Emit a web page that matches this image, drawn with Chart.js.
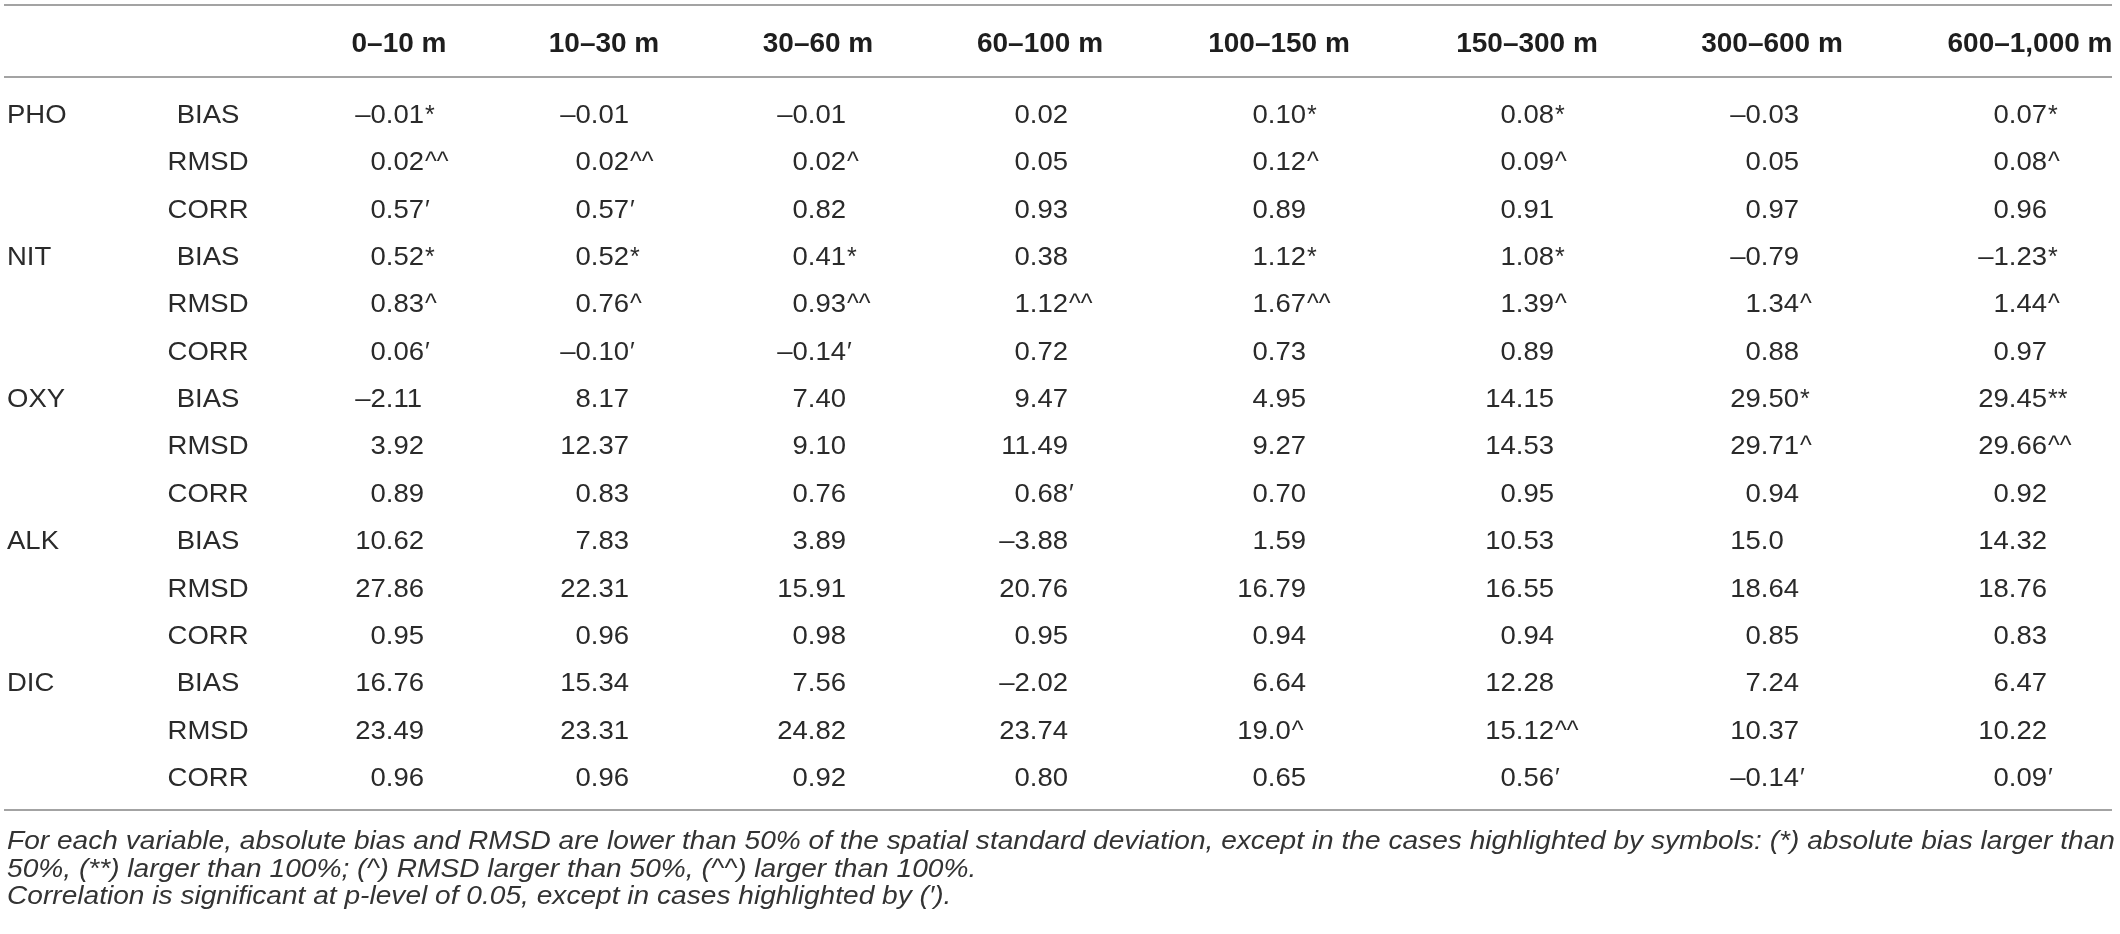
<!DOCTYPE html>
<html>
<head>
<meta charset="utf-8">
<script src="https://cdn.jsdelivr.net/npm/chart.js@4.4.1/dist/chart.umd.min.js"></script>
<style>
    html, body { margin: 0; padding: 0; background: #ffffff; }
    #wrap { width: 2120px; height: 934px; position: relative; }
</style>
</head>
<body>
<div id="wrap"><canvas id="statsTable"></canvas></div>
<script>
// Table data (cell text as printed; markers: * ** ^ ^^ ')
const depthBins = ['0–10 m', '10–30 m', '30–60 m', '60–100 m', '100–150 m', '150–300 m', '300–600 m', '600–1,000 m'];
const variables = ['PHO', 'NIT', 'OXY', 'ALK', 'DIC'];
const statistics = ['BIAS', 'RMSD', 'CORR'];

const phoBias = ['-0.01*', '-0.01', '-0.01', '0.02', '0.10*', '0.08*', '-0.03', '0.07*'];
const phoRmsd = ['0.02^^', '0.02^^', '0.02^', '0.05', '0.12^', '0.09^', '0.05', '0.08^'];
const phoCorr = ["0.57'", "0.57'", '0.82', '0.93', '0.89', '0.91', '0.97', '0.96'];
const nitBias = ['0.52*', '0.52*', '0.41*', '0.38', '1.12*', '1.08*', '-0.79', '-1.23*'];
const nitRmsd = ['0.83^', '0.76^', '0.93^^', '1.12^^', '1.67^^', '1.39^', '1.34^', '1.44^'];
const nitCorr = ["0.06'", "-0.10'", "-0.14'", '0.72', '0.73', '0.89', '0.88', '0.97'];
const oxyBias = ['-2.11', '8.17', '7.40', '9.47', '4.95', '14.15', '29.50*', '29.45**'];
const oxyRmsd = ['3.92', '12.37', '9.10', '11.49', '9.27', '14.53', '29.71^', '29.66^^'];
const oxyCorr = ['0.89', '0.83', '0.76', "0.68'", '0.70', '0.95', '0.94', '0.92'];
const alkBias = ['10.62', '7.83', '3.89', '-3.88', '1.59', '10.53', '15.0', '14.32'];
const alkRmsd = ['27.86', '22.31', '15.91', '20.76', '16.79', '16.55', '18.64', '18.76'];
const alkCorr = ['0.95', '0.96', '0.98', '0.95', '0.94', '0.94', '0.85', '0.83'];
const dicBias = ['16.76', '15.34', '7.56', '-2.02', '6.64', '12.28', '7.24', '6.47'];
const dicRmsd = ['23.49', '23.31', '24.82', '23.74', '19.0^', '15.12^^', '10.37', '10.22'];
const dicCorr = ['0.96', '0.96', '0.92', '0.80', '0.65', "0.56'", "-0.14'", "0.09'"];

const footnotes = [
    'For each variable, absolute bias and RMSD are lower than 50% of the spatial standard deviation, except in the cases highlighted by symbols: (*) absolute bias larger than',
    '50%, (**) larger than 100%; (^) RMSD larger than 50%, (^^) larger than 100%.',
    'Correlation is significant at p-level of 0.05, except in cases highlighted by (′).'
];

const tableRows = [phoBias, phoRmsd, phoCorr, nitBias, nitRmsd, nitCorr, oxyBias, oxyRmsd, oxyCorr,
    alkBias, alkRmsd, alkCorr, dicBias, dicRmsd, dicCorr];
const rowKeys = tableRows.map((r, i) => variables[Math.floor(i / 3)] + ' ' + statistics[i % 3]);

// Layout (x in scale units = page px)
const layout = {
    varX: 7,
    statX: 208,
    numRight: [424, 629, 846, 1068, 1306, 1554, 1799, 2047],
    headCenter: [399, 604, 818, 1040, 1279, 1527, 1772, 2030],
    ruleLeft: 4,
    ruleRight: 2112,
    footWidth: 2108
};

const FONT = '"Liberation Sans", Arial, sans-serif';
const BODY_SIZE = 25;
const BODY_STRETCH = 1.1;
const TEXT_COLOR = '#2a2a2a';

function drawStretched(ctx, text, x, y, sx) {
    ctx.save();
    ctx.translate(x, y);
    ctx.scale(sx, 1);
    ctx.fillText(text, 0, 0);
    ctx.restore();
}

function textWidth(ctx, text, sx) {
    return ctx.measureText(text).width * sx;
}

const tablePlugin = {
    id: 'tableText',
    afterDraw(chart) {
        const ctx = chart.ctx;
        const xs = chart.scales.x;
        const ys = chart.scales.y;
        const firstRow = ys.getPixelForValue(0);
        const lastRow = ys.getPixelForValue(tableRows.length - 1);
        const capOffset = BODY_SIZE * 0.716 / 2;

        ctx.save();
        ctx.textBaseline = 'alphabetic';

        // Rules
        ctx.strokeStyle = '#a3a3a3';
        ctx.lineWidth = 2;
        const x0 = xs.getPixelForValue(layout.ruleLeft);
        const x1 = xs.getPixelForValue(layout.ruleRight);
        [firstRow - 109, firstRow - 37, lastRow + 33].forEach(y => {
            ctx.beginPath();
            ctx.moveTo(x0, y);
            ctx.lineTo(x1, y);
            ctx.stroke();
        });

        // Header
        ctx.fillStyle = '#1e1e1e';
        ctx.font = 'bold 28px ' + FONT;
        ctx.textAlign = 'center';
        depthBins.forEach((label, c) => {
            ctx.fillText(label, xs.getPixelForValue(layout.headCenter[c]), firstRow - 72 + 10);
        });

        // Row labels
        ctx.fillStyle = TEXT_COLOR;
        ctx.font = BODY_SIZE + 'px ' + FONT;
        ctx.textAlign = 'left';
        tableRows.forEach((row, r) => {
            const yb = ys.getPixelForValue(r) + capOffset;
            if (r % 3 === 0) {
                drawStretched(ctx, variables[r / 3], xs.getPixelForValue(layout.varX), yb, BODY_STRETCH);
            }
            const stat = statistics[r % 3];
            const sw = textWidth(ctx, stat, BODY_STRETCH);
            drawStretched(ctx, stat, xs.getPixelForValue(layout.statX) - sw / 2, yb, BODY_STRETCH);
        });

        // Cells, aligned on the decimal point; markers hang to the right
        const digitW = textWidth(ctx, '0', BODY_STRETCH);
        tableRows.forEach((row, r) => {
            const yb = ys.getPixelForValue(r) + capOffset;
            row.forEach((cell, c) => {
                const m = cell.match(/^(-?\d+\.\d+)(.*)$/);
                const num = m[1].replace('-', '–');
                const mark = m[2] === "'" ? '′' : m[2];
                const dot = num.indexOf('.');
                const headW = textWidth(ctx, num.slice(0, dot + 1), BODY_STRETCH);
                const left = xs.getPixelForValue(layout.numRight[c]) - 2 * digitW - headW;
                drawStretched(ctx, num, left, yb, BODY_STRETCH);
                if (mark) {
                    const end = left + textWidth(ctx, num, BODY_STRETCH);
                    drawStretched(ctx, mark, end + 1, yb, 1);
                }
            });
        });

        // Footnotes
        ctx.font = 'italic 25px ' + FONT;
        ctx.fillStyle = '#333333';
        const fit = layout.footWidth / ctx.measureText(footnotes[0]).width;
        footnotes.forEach((line, i) => {
            drawStretched(ctx, line, xs.getPixelForValue(layout.varX), lastRow + 72 + i * 27.5, fit);
        });
        ctx.restore();
    }
};

new Chart(document.getElementById('statsTable'), {
    type: 'bar',
    data: {
        labels: rowKeys,
        datasets: [{ data: rowKeys.map(() => null), backgroundColor: 'transparent' }]
    },
    options: {
        indexAxis: 'y',
        responsive: true,
        maintainAspectRatio: false,
        animation: false,
        layout: { padding: { left: 0, right: 0, top: 90.3, bottom: 133.3 } },
        plugins: { legend: { display: false }, tooltip: { enabled: false } },
        scales: {
            x: { type: 'linear', min: 0, max: 2120, display: false },
            y: { type: 'category', offset: true, display: false }
        }
    },
    plugins: [tablePlugin]
});
</script>
</body>
</html>
